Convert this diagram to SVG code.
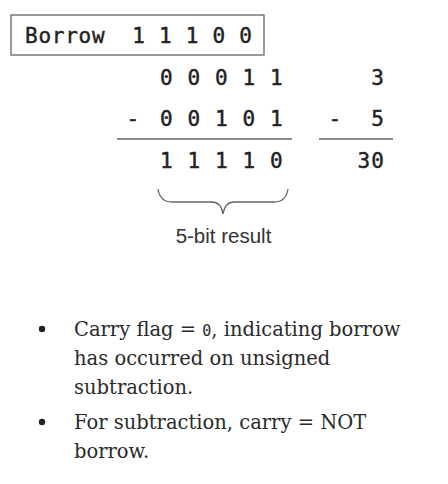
<svg xmlns="http://www.w3.org/2000/svg" width="448" height="484" viewBox="0 0 448 484">
<style>
.mono{font-family:"DejaVu Sans Mono","Liberation Mono",monospace;font-size:21px;fill:#222;stroke:#222;stroke-width:0.45px;letter-spacing:1.1px}
.rule{stroke:#666;stroke-width:1.3;fill:none}
.note{font-family:"DejaVu Serif","Liberation Serif",serif;font-size:19.5px;fill:#2a2a2a}
.code{font-family:"DejaVu Sans Mono",monospace;font-size:15px}
.label{font-family:"Liberation Sans",Arial,sans-serif;font-size:20.5px;fill:#333}
</style>
<rect width="448" height="484" fill="#ffffff"/>
<g id="borrow">
<rect x="11" y="15" width="253" height="40" fill="none" stroke="#666" stroke-width="1.3"/>
<text class="mono" x="25" y="43" style="letter-spacing:0.75px" xml:space="preserve">Borrow  1 1 1 0 0</text>
</g>
<g id="binary">
<text class="mono" x="160" y="85">0 0 0 1 1</text>
<text class="mono" x="126.5" y="126">-</text>
<text class="mono" x="160" y="126">0 0 1 0 1</text>
<text class="mono" x="160" y="168">1 1 1 1 0</text>
</g>
<g id="decimal">
<text class="mono" x="385" y="85" text-anchor="end">3</text>
<text class="mono" x="328.5" y="126">-</text>
<text class="mono" x="385" y="126" text-anchor="end">5</text>
<text class="mono" x="385" y="168" text-anchor="end">30</text>
</g>
<g id="connectors">
<line class="rule" x1="117" y1="139" x2="292" y2="139"/>
<line class="rule" x1="319" y1="139" x2="393" y2="139"/>
<path class="rule" stroke="#777" stroke-width="1.5" d="M158,189 Q160,202 172,202 L212,202 Q221,202 223,214 Q225,202 234,202 L274,202 Q286,202 288,189"/>
</g>
<g id="result-label">
<text class="label" x="223.5" y="243" text-anchor="middle">5-bit result</text>
</g>
<g id="notes">
<circle cx="42" cy="329" r="3.2" fill="#222"/>
<circle cx="42" cy="422" r="3.2" fill="#222"/>
<text class="note" x="74" y="336">Carry flag = <tspan class="code">0</tspan>, indicating borrow</text>
<text class="note" x="74" y="365">has occurred on unsigned</text>
<text class="note" x="74" y="394">subtraction.</text>
<text class="note" x="74" y="429">For subtraction, carry = NOT</text>
<text class="note" x="74" y="458">borrow.</text>
</g>
</svg>
